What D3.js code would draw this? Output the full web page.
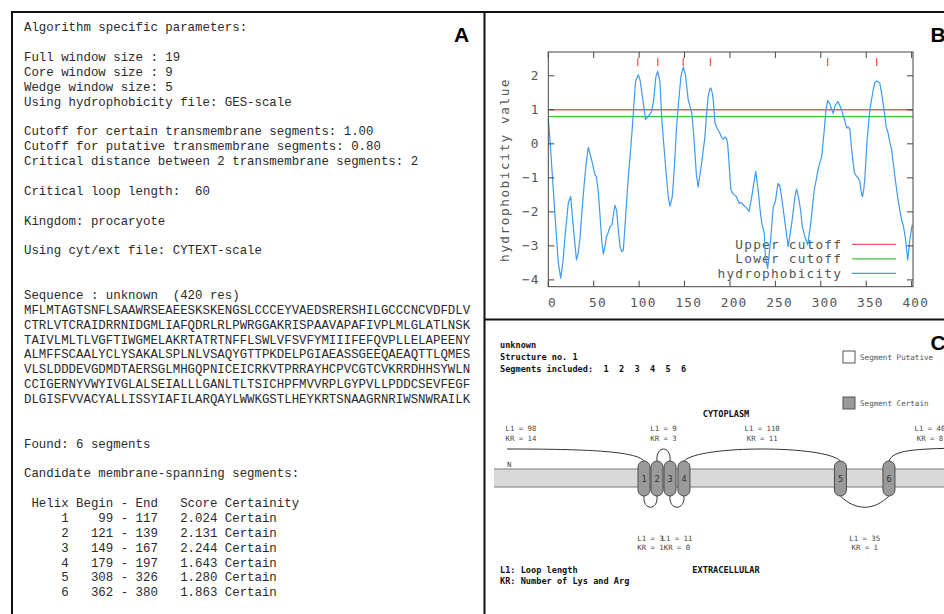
<!DOCTYPE html>
<html><head><meta charset="utf-8">
<script src="https://cdn.jsdelivr.net/npm/d3@7/dist/d3.min.js"></script>
<style>body{margin:0;background:#fff}svg{display:block}</style>
</head><body>
<svg id="fig" width="944" height="614"></svg>
<script>
// ---------------- DATA ----------------
const paramLines = [
  "Algorithm specific parameters:", "",
  "Full window size : 19", "Core window size : 9", "Wedge window size: 5",
  "Using hydrophobicity file: GES-scale", "",
  "Cutoff for certain transmembrane segments: 1.00",
  "Cutoff for putative transmembrane segments: 0.80",
  "Critical distance between 2 transmembrane segments: 2", "",
  "Critical loop length:  60", "",
  "Kingdom: procaryote", "",
  "Using cyt/ext file: CYTEXT-scale", "", "",
  "Sequence : unknown  (420 res)"
];
const sequenceLines = [
  "MFLMTAGTSNFLSAAWRSEAEESKSKENGSLCCCEYVAEDSRERSHILGCCCNCVDFDLV",
  "CTRLVTCRAIDRRNIDGMLIAFQDRLRLPWRGGAKRISPAAVAPAFIVPLMLGLATLNSK",
  "TAIVLMLTLVGFTIWGMELAKRTATRTNFFLSWLVFSVFYMIIIFEFQVPLLELAPEENY",
  "ALMFFSCAALYCLYSAKALSPLNLVSAQYGTTPKDELPGIAEASSGEEQAEAQTTLQMES",
  "VLSLDDDEVGDMDTAERSGLMHGQPNICEICRKVTPRRAYHCPVCGTCVKRRDHHSYWLN",
  "CCIGERNYVWYIVGLALSEIALLLGANLTLTSICHPFMVVRPLGYPVLLPDDCSEVFEGF",
  "DLGISFVVACYALLISSYIAFILARQAYLWWKGSTLHEYKRTSNAAGRNRIWSNWRAILK"
];
const helixIds = [1, 2, 3, 4, 5, 6];
const helixBegin = [99, 121, 149, 179, 308, 362];
const helixEnd = [117, 139, 167, 197, 326, 380];
const helixScore = [2.024, 2.131, 2.244, 1.643, 1.280, 1.863];
const helixCertainty = ["Certain", "Certain", "Certain", "Certain", "Certain", "Certain"];

// hydrophobicity profile (residue position, value)
const hydroPos = [0,2,5.5,9,11,13.6,16,18.4,22,24.6,27.5,31,33,35,37,39.6,42,44,47.7,51.4,53,55,57,59,60.6,62.5,64,66,68,70,71.5,73.4,75.2,77,79,80.8,82.6,84.5,86.3,88,90,92,93.6,96,99,101,103,104.6,107,110,112,113.8,116,118.5,120.4,122,123,124.8,126.5,128.5,130.5,132,134,136.5,138,139.5,141,143,146,148.6,151,154,156,158,160,161.5,163,165,167,168.8,170.5,172.5,174,176,178,179,180.5,181.6,183.5,186,189,190.5,192.6,194.5,196,197.4,199,201,203,204.8,207,210,212,214.6,218.4,221,224,226,228.3,231,233,235,237.8,239,241.5,243,245,247.7,250,251.5,253,255,257,258.7,261.6,264,266,268,270,271.5,273.4,276,278,279.6,282.5,285.5,287,289,291,292.8,295,297,299,301,303.5,305.7,307.5,309,310.5,312,313.7,315,316,319,321,323,325,326.6,328.5,330,332,334,337,339.5,341,343,345,346,347.5,348.6,351,354,357.7,359.5,361.5,363,365,367.6,370.6,372,374.2,376,378,381.6,385,389,391,393.4,395.6,397,398,400.6];
const hydroVal = [0.75,0.05,-1.35,-2.73,-3.5,-3.95,-3.5,-2.73,-1.74,-1.55,-2.43,-3.41,-3.2,-2.73,-2.0,-1.16,-0.5,-0.1,-0.47,-0.91,-0.96,-1.4,-2.14,-2.9,-3.24,-3.0,-2.73,-2.6,-2.43,-2.4,-2.1,-1.81,-1.95,-2.5,-3.02,-3.17,-3.12,-2.4,-1.65,-1.0,-0.37,0.3,0.9,1.83,2.03,1.88,1.5,1.2,0.72,0.8,0.88,0.95,1.29,1.98,2.13,1.95,1.78,0.8,0.2,-0.47,-1.1,-1.55,-1.84,-1.55,-1.0,-0.37,0.4,1.1,1.98,2.26,2.03,1.3,1.1,0.9,0.3,-0.3,-0.9,-1.27,-0.9,-0.57,-0.2,0.22,0.8,1.39,1.62,1.64,1.5,1.29,0.61,0.45,0.31,0.2,0.14,0.2,0.17,0.02,-0.57,-1.35,-1.45,-1.5,-1.55,-1.75,-1.72,-1.79,-1.89,-1.99,-1.55,-1.2,-0.81,-1.35,-1.9,-2.33,-2.63,-3.31,-3.66,-3.3,-2.73,-1.84,-1.7,-1.4,-1.16,-1.25,-1.6,-1.94,-2.53,-3.02,-2.7,-2.33,-1.9,-1.55,-1.33,-1.65,-2.0,-2.43,-2.73,-2.97,-2.7,-2.33,-1.8,-1.35,-1.05,-0.76,-0.55,-0.37,0.31,1.0,1.27,1.22,1.14,1.0,0.9,1.05,1.14,1.24,1.12,1.0,0.8,0.66,0.46,0.5,0.43,-0.18,-0.86,-0.96,-1.0,-1.11,-1.5,-1.55,-1.3,-0.96,0.12,1.0,1.59,1.8,1.85,1.83,1.78,1.39,0.8,0.5,0.31,0.05,-0.18,-0.96,-1.65,-2.24,-2.43,-2.82,-3.41,-3.1,-2.82,-2.38];
const upperCutoff = 1.0;
const lowerCutoff = 0.8;
const xTicks = [0, 50, 100, 150, 200, 250, 300, 350, 400];
const yTicks = [-4, -3, -2, -1, 0, 1, 2];
const legendLabels = ["Upper cutoff", "Lower cutoff", "hydrophobicity"];
const legendColors = ["#f25a5a", "#44c244", "#3d9af5"];

// topology (panel C)
const loopLengths = [98, 3, 9, 11, 110, 35, 40];
const loopKR = [14, 1, 3, 0, 11, 1, 8];
const loopSide = ["cyt", "ext", "cyt", "ext", "cyt", "ext", "cyt"];
const headerLines = ["unknown", "Structure no. 1", "Segments included:  " + helixIds.join("  ")];

// ---------------- DRAW ----------------
const svg = d3.select("#fig");
svg.append("rect").attr("width", 944).attr("height", 614).attr("fill", "#fff");

// ===== Panel A =====
const pad = (s, n) => String(s).padStart(n, " ");
const tableRows = helixIds.map((h, i) =>
  pad(h, 6) + pad(helixBegin[i], 6) + " - " + pad(helixEnd[i], 3) +
  pad(helixScore[i].toFixed(3), 8) + " " + helixCertainty[i]);
const allLines = [].concat(paramLines, sequenceLines, ["", "", "Found: " + helixIds.length + " segments", "",
  "Candidate membrane-spanning segments:", "", " Helix Begin - End   Score Certainity"], tableRows);
const gA = svg.append("g");
gA.selectAll("text").data(allLines).join("text")
  .attr("x", 24).attr("y", (d, i) => 31.3 + i * 14.87)
  .attr("font-family", "'Liberation Mono', 'Courier New', monospace")
  .attr("font-size", 12.4).attr("fill", "#2a2a2a")
  .style("white-space", "pre").attr("xml:space", "preserve")
  .text(d => d);

// ===== Panel B =====
const gB = svg.append("g");
const x = d3.scaleLinear().domain([0, 401.5]).range([548.3, 913]);
const y = d3.scaleLinear().domain([-4.2, 2.7]).range([286.7, 52]);
const bFont = "'DejaVu Sans Mono', monospace";
const bSize = 12.8, bLS = 1.2;

// cutoff lines
gB.append("line").attr("x1", x.range()[0]).attr("x2", x.range()[1])
  .attr("y1", y(upperCutoff)).attr("y2", y(upperCutoff))
  .attr("stroke", legendColors[0]).attr("stroke-width", 1.6);
gB.append("line").attr("x1", x.range()[0]).attr("x2", x.range()[1])
  .attr("y1", y(lowerCutoff)).attr("y2", y(lowerCutoff))
  .attr("stroke", legendColors[1]).attr("stroke-width", 1.4);

// helix start markers
gB.selectAll("line.mk").data(helixBegin).join("line").attr("class", "mk")
  .attr("x1", d => x(d - 0.5)).attr("x2", d => x(d - 0.5))
  .attr("y1", 58).attr("y2", 66)
  .attr("stroke", "#f25a5a").attr("stroke-width", 1.3);

// legend
const legY = [244.3, 258.8, 273.3];
gB.selectAll("text.leg").data(legendLabels).join("text").attr("class", "leg")
  .attr("x", 841 + bLS).attr("y", (d, i) => legY[i] + 4.3)
  .attr("text-anchor", "end").attr("font-family", bFont).attr("font-size", bSize)
  .attr("letter-spacing", bLS).attr("fill", "#555").text(d => d);
gB.selectAll("line.leg").data(legendColors).join("line").attr("class", "leg")
  .attr("x1", 852).attr("x2", 896).attr("y1", (d, i) => legY[i]).attr("y2", (d, i) => legY[i])
  .attr("stroke", d => d).attr("stroke-width", 1.3);

// curve
const pts = hydroPos.map((p, i) => [p, hydroVal[i]]);
gB.append("path").datum(pts)
  .attr("d", d3.line().x(d => x(d[0])).y(d => y(d[1])))
  .attr("fill", "none").attr("stroke", legendColors[2]).attr("stroke-width", 1.2)
  .attr("stroke-linejoin", "round");

// frame + ticks
gB.append("rect").attr("x", x.range()[0]).attr("y", y.range()[1])
  .attr("width", x.range()[1] - x.range()[0]).attr("height", y.range()[0] - y.range()[1])
  .attr("fill", "none").attr("stroke", "#444").attr("stroke-width", 1);
const tk = 6;
yTicks.forEach(t => {
  gB.append("line").attr("x1", x.range()[0]).attr("x2", x.range()[0] + tk).attr("y1", y(t)).attr("y2", y(t)).attr("stroke", "#444");
  gB.append("line").attr("x1", x.range()[1]).attr("x2", x.range()[1] - tk).attr("y1", y(t)).attr("y2", y(t)).attr("stroke", "#444");
  gB.append("text").attr("x", 538.5 + bLS).attr("y", y(t) + 4.6).attr("text-anchor", "end")
    .attr("font-family", bFont).attr("font-size", bSize).attr("letter-spacing", bLS)
    .attr("fill", "#555").text(t < 0 ? "\u2212" + (-t) : String(t));
});
xTicks.forEach(t => {
  gB.append("line").attr("x1", x(t)).attr("x2", x(t)).attr("y1", y.range()[0]).attr("y2", y.range()[0] - tk).attr("stroke", "#444");
  gB.append("line").attr("x1", x(t)).attr("x2", x(t)).attr("y1", y.range()[1]).attr("y2", y.range()[1] + tk).attr("stroke", "#444");
  gB.append("text").attr("x", x(t) + 3.6 + bLS / 2).attr("y", 306.8).attr("text-anchor", "middle")
    .attr("font-family", bFont).attr("font-size", bSize).attr("letter-spacing", bLS)
    .attr("fill", "#555").text(t);
});
gB.append("text").attr("transform", "translate(509,170) rotate(-90)")
  .attr("text-anchor", "middle").attr("font-family", bFont).attr("font-size", bSize)
  .attr("letter-spacing", 1.5).attr("fill", "#555").text("hydrophobicity value");

// ===== Panel C =====
const gC = svg.append("g");
const boldFont = "'DejaVu Sans Mono', monospace";
const memTop = 469, memBot = 487, hTop = 461, hBot = 496, hW = 12;
gC.append("rect").attr("x", 494).attr("y", memTop).attr("width", 460).attr("height", memBot - memTop)
  .attr("fill", "#d9d9d9");
[memTop, memBot].forEach(v => gC.append("line").attr("x1", 494).attr("x2", 950).attr("y1", v).attr("y2", v)
  .attr("stroke", "#7a7a7a").attr("stroke-width", 1));

// helix centres from loop lengths (packed with a minimum spacing)
const gapScale = d3.scaleLinear().domain([35, 110]).range([48.5, 156.5]);
const hx = [644];
for (let i = 1; i < helixIds.length; i++) hx.push(hx[i - 1] + Math.max(13, gapScale(loopLengths[i])));

// inner loops
const loopPath = (x1, x2, side) => {
  const w = x2 - x1, inset = w > 30 ? 15 : -1.5;
  const y0 = side === "cyt" ? hTop : hBot, c = side === "cyt" ? y0 - 16 : y0 + 15;
  return `M${x1},${y0} C${x1 + inset},${c} ${x2 - inset},${c} ${x2},${y0}`;
};
for (let i = 1; i < helixIds.length; i++) {
  gC.append("path").attr("d", loopPath(hx[i - 1], hx[i], loopSide[i]))
    .attr("fill", "none").attr("stroke", "#333").attr("stroke-width", 1);
}
// N and C terminal tails
gC.append("path").attr("d", `M507,449 C585,449 636,451 ${hx[0]},${hTop}`)
  .attr("fill", "none").attr("stroke", "#333");
gC.append("path").attr("d", `M${hx[5]},${hTop} C${hx[5] + 4},450 ${hx[5] + 25},449 960,448`)
  .attr("fill", "none").attr("stroke", "#333");

// helices
gC.selectAll("rect.hx").data(helixIds).join("rect").attr("class", "hx")
  .attr("x", (d, i) => hx[i] - hW / 2).attr("y", hTop).attr("width", hW).attr("height", hBot - hTop)
  .attr("rx", hW / 2).attr("ry", hW / 2)
  .attr("fill", "#9a9a9a").attr("stroke", "#4a4a4a").attr("stroke-width", 1);
gC.selectAll("text.hx").data(helixIds).join("text").attr("class", "hx")
  .attr("x", (d, i) => hx[i]).attr("y", (hTop + hBot) / 2 + 3.5).attr("text-anchor", "middle")
  .attr("font-family", boldFont).attr("font-size", 8.5).attr("fill", "#333").text(d => d);

// loop labels
const loopCenters = [521].concat(d3.range(1, 6).map(i => (hx[i - 1] + hx[i]) / 2), [hx[5] + 41]);
loopLengths.forEach((L, i) => {
  const top = loopSide[i] === "cyt";
  const y1 = top ? 431 : 540.5;
  gC.append("text").attr("x", loopCenters[i]).attr("y", y1).attr("text-anchor", "middle")
    .attr("font-family", boldFont).attr("font-size", 7.3).attr("fill", "#444")
    .style("white-space", "pre").text("L1 = " + L);
  gC.append("text").attr("x", loopCenters[i]).attr("y", y1 + 9.5).attr("text-anchor", "middle")
    .attr("font-family", boldFont).attr("font-size", 7.3).attr("fill", "#444")
    .style("white-space", "pre").text("KR = " + loopKR[i]);
});
gC.append("text").attr("x", 507).attr("y", 467).attr("font-family", boldFont).attr("font-size", 7.3)
  .attr("fill", "#444").text("N");

// header
gC.selectAll("text.hd").data(headerLines).join("text").attr("class", "hd")
  .attr("x", 500).attr("y", (d, i) => 348 + i * 12)
  .attr("font-family", boldFont).attr("font-size", 8.6).attr("font-weight", "bold").attr("fill", "#111")
  .style("white-space", "pre").text(d => d);
gC.append("text").attr("x", 726).attr("y", 416.5).attr("text-anchor", "middle")
  .attr("font-family", boldFont).attr("font-size", 8.6).attr("font-weight", "bold").attr("fill", "#111").text("CYTOPLASM");
gC.append("text").attr("x", 726).attr("y", 572.5).attr("text-anchor", "middle")
  .attr("font-family", boldFont).attr("font-size", 8.6).attr("font-weight", "bold").attr("fill", "#111").text("EXTRACELLULAR");
gC.append("text").attr("x", 500).attr("y", 573).attr("font-family", boldFont).attr("font-size", 8.6)
  .attr("font-weight", "bold").attr("fill", "#111").text("L1: Loop length");
gC.append("text").attr("x", 500).attr("y", 584).attr("font-family", boldFont).attr("font-size", 8.6)
  .attr("font-weight", "bold").attr("fill", "#111").text("KR: Number of Lys and Arg");

// legend boxes
const legC = [["Segment Putative", "#fff", 357], ["Segment Certain", "#9a9a9a", 403]];
legC.forEach(([t, f, cy]) => {
  gC.append("rect").attr("x", 843).attr("y", cy - 6).attr("width", 12).attr("height", 12)
    .attr("fill", f).attr("stroke", "#555");
  gC.append("text").attr("x", 860).attr("y", cy + 3).attr("font-family", boldFont).attr("font-size", 7.6)
    .attr("fill", "#555").text(t);
});

// ===== panel frames and letters =====
const fr = svg.append("g").attr("stroke", "#111").attr("stroke-width", 2);
fr.append("line").attr("x1", 11).attr("x2", 944).attr("y1", 12).attr("y2", 12);
fr.append("line").attr("x1", 12).attr("x2", 12).attr("y1", 11).attr("y2", 614);
fr.append("line").attr("x1", 484.5).attr("x2", 484.5).attr("y1", 11).attr("y2", 614);
fr.append("line").attr("x1", 484).attr("x2", 944).attr("y1", 319.5).attr("y2", 319.5);
const letters = [["A", 454, 41.5], ["B", 930.5, 41.5], ["C", 930.5, 349.5]];
svg.selectAll("text.lt").data(letters).join("text").attr("class", "lt")
  .attr("x", d => d[1]).attr("y", d => d[2])
  .attr("font-family", "'Liberation Sans', Arial, sans-serif").attr("font-weight", "bold")
  .attr("font-size", 21).attr("fill", "#000").text(d => d[0]);
</script>
</body></html>
